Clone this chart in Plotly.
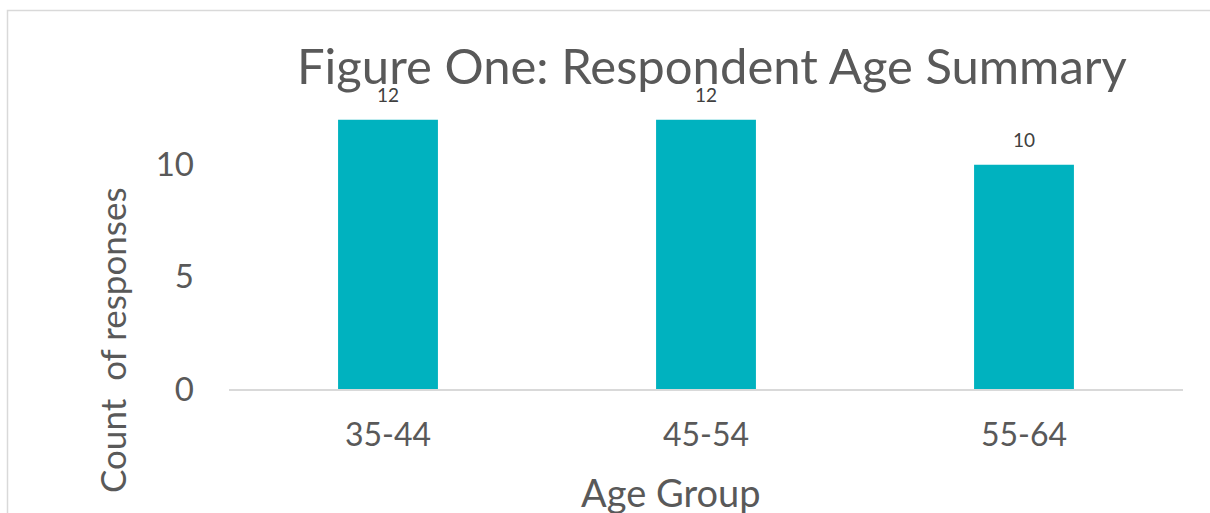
import plotly.graph_objects as go

# Respondent counts per age band
age_groups = ["35-44", "45-54", "55-64"]
counts = [12, 12, 10]

bar_color = "#00B2BF"
text_grey = "#595959"
label_grey = "#404040"
line_grey = "#D9D9D9"
font_family = "Lato, Noto Sans, sans-serif"

W, H = 1210, 513
ML, MR, MT, MB = 229, 27, 75, 124
plot_w = W - ML - MR
plot_h = H - MT - MB


def px_x(px):
    return (px - ML) / plot_w


def px_y(py):
    return (H - MB - py) / plot_h


fig = go.Figure(
    go.Bar(
        x=age_groups,
        y=counts,
        marker=dict(color=bar_color, line=dict(width=0)),
        width=0.314,
        cliponaxis=False,
    )
)

# value labels sitting above each bar
value_labels = [
    dict(
        x=g, y=c, xref="x", yref="y",
        text=str(c),
        showarrow=False,
        yanchor="middle",
        yshift=25,
        font=dict(size=19, color=label_grey, family=font_family),
    )
    for g, c in zip(age_groups, counts)
]

fig.update_layout(
    width=W,
    height=H,
    margin=dict(l=ML, r=MR, t=MT, b=MB, pad=0),
    paper_bgcolor="white",
    plot_bgcolor="white",
    showlegend=False,
    font=dict(family=font_family, color=text_grey),
    xaxis=dict(
        showgrid=False,
        showline=True,
        linecolor=line_grey,
        linewidth=2,
        ticks="",
        tickfont=dict(size=32, color=text_grey),
        ticklabelstandoff=17,
        zeroline=False,
    ),
    yaxis=dict(
        range=[0, 14],
        tickvals=[0, 5, 10],
        showgrid=False,
        showline=False,
        zeroline=False,
        ticks="",
        tickfont=dict(size=33, color=text_grey),
        ticklabelstandoff=34,
    ),
    annotations=value_labels + [
        dict(
            text="Figure One: Respondent Age Summary",
            xref="paper", yref="paper",
            x=px_x(712), y=px_y(65),
            xanchor="center", yanchor="middle",
            showarrow=False,
            font=dict(size=49, color=text_grey, family=font_family),
        ),
        dict(
            text="Count  of responses",
            xref="paper", yref="paper",
            x=px_x(112), y=px_y(340),
            xanchor="center", yanchor="middle",
            textangle=-90,
            showarrow=False,
            font=dict(size=35, color=text_grey, family=font_family),
        ),
        dict(
            text="Age Group",
            xref="paper", yref="paper",
            x=px_x(671), y=px_y(492),
            xanchor="center", yanchor="middle",
            showarrow=False,
            font=dict(size=38, color=text_grey, family=font_family),
        ),
    ],
    shapes=[
        dict(
            type="rect",
            xref="paper", yref="paper",
            x0=px_x(7.5), x1=px_x(1300),
            y0=px_y(600), y1=px_y(10.5),
            line=dict(color=line_grey, width=1.5),
            fillcolor="rgba(0,0,0,0)",
            layer="below",
        )
    ],
)

fig.write_html("out.html")
